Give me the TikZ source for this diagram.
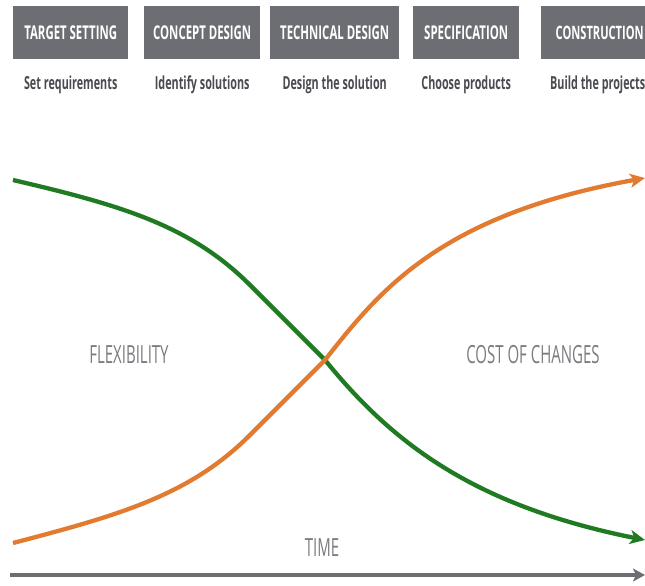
\documentclass[tikz,border=0pt]{standalone}
\usepackage{fontspec}
\setmainfont{Open Sans}
\newfontfamily\headfont{Open Sans}[FakeStretch=0.6]
\newfontfamily\labelfont{Open Sans}[FakeStretch=0.6]
\usetikzlibrary{arrows.meta}
\definecolor{boxgray}{HTML}{6D6E73}
\definecolor{subgray}{HTML}{4A4B50}
\definecolor{labelgray}{HTML}{7A7B80}
\definecolor{flexgreen}{HTML}{1F7A22}
\definecolor{costorange}{HTML}{E27B30}
\begin{document}
\begin{tikzpicture}[x=1pt,y=-1pt,
  phase/.style={fill=boxgray, text=white, font=\headfont\fontsize{19}{19}\selectfont\bfseries, inner sep=0pt, minimum height=53pt, anchor=north west},
  task/.style={text=subgray, font=\headfont\fontsize{18}{18}\selectfont\bfseries, anchor=center},
  curve/.style={line width=4.3pt, -{Stealth[length=15pt,width=14pt,inset=4pt]}},
  biglabel/.style={text=labelgray, font=\labelfont\fontsize{25}{25}\selectfont}]
\useasboundingbox (0,0) rectangle (645,586);
% phase boxes
\node[phase, minimum width=115pt] (ts) at (13,6) {TARGET SETTING};
\node[phase, minimum width=116pt] (cd) at (144,6) {CONCEPT DESIGN};
\node[phase, minimum width=129pt] (td) at (270,6) {TECHNICAL DESIGN};
\node[phase, minimum width=106pt] (sp) at (413,6) {SPECIFICATION};
\node[phase, minimum width=110pt] (co) at (541,6) {\hspace*{7pt}{\fontsize{18.5}{18.5}\selectfont CONSTRUCTION}\hfill};
% tasks
\node[task] (t1) at (ts.center |- 0,85) {Set requirements};
\node[task] (t2) at (cd.center |- 0,85) {Identify solutions};
\node[task] (t3) at (td.center |- 0,85) {Design the solution};
\node[task] (t4) at (sp.center |- 0,85) {Choose products};
\node[task, anchor=west, inner sep=0pt] (t5) at (550,85) {Build the projects};
% curves
\coordinate (gs) at (13,180);
\coordinate (ge) at (645,540);
\coordinate (os) at (13,543);
\coordinate (oe) at (645,178);
\coordinate (x) at (325,360);
\draw[curve, flexgreen] (gs) .. controls (120,205) and (190,225) .. (250,285)
  .. controls (290,325) and (300,335) .. (x)
  .. controls (390,440) and (470,505) .. (ge);
\draw[curve, costorange] (os) .. controls (120,515) and (190,495) .. (250,435)
  .. controls (290,395) and (300,385) .. (x)
  .. controls (380,290) and (440,215) .. (oe);
% labels
\node[biglabel] (flex) at (129,355) {FLEXIBILITY};
\node[biglabel] (cost) at (533,355) {COST OF CHANGES};
\node[biglabel] (time) at (322,548) {TIME};
% time axis
\coordinate (ta) at (10,575);
\coordinate (tb) at (645,575);
\draw[line width=4pt, boxgray, -{Stealth[length=12pt,width=13pt,inset=3pt]}] (ta) -- (tb);
\end{tikzpicture}
\end{document}
